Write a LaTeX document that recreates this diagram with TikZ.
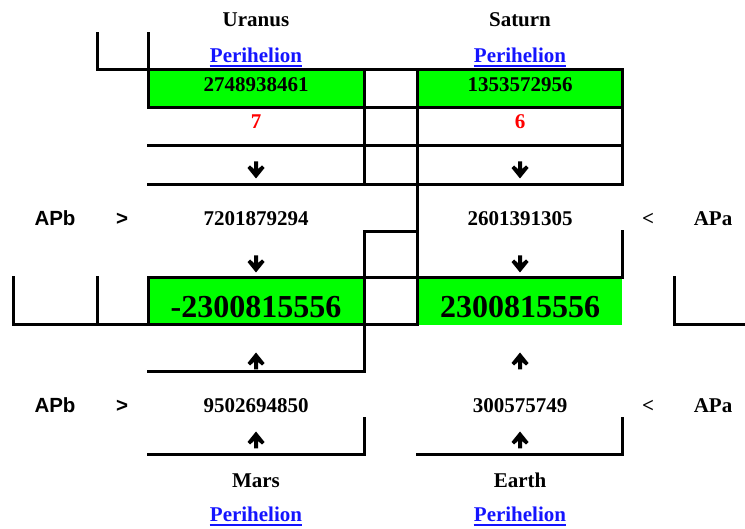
\documentclass[tikz,border=0pt]{standalone}
\usepackage{fontspec}
\setmainfont{Liberation Serif}
\newfontfamily\arialf{Liberation Sans}
\definecolor{lnk}{RGB}{20,20,255}
\definecolor{grn}{RGB}{0,255,0}
\definecolor{rd}{RGB}{255,0,0}
\tikzset{
  dnarr/.pic={\fill (-2,-8.5) -- (2,-8.5) -- (2,-1) -- (6,-4.5) -- (8.5,-2) -- (0,8.5) -- (-8.5,-2) -- (-6,-4.5) -- (-2,-1) -- cycle;},
  uparr/.pic={\fill (-2,8.5) -- (2,8.5) -- (2,1) -- (6,4.5) -- (8.5,2) -- (0,-8.5) -- (-8.5,2) -- (-6,4.5) -- (-2,1) -- cycle;}
}
\begin{document}
\begin{tikzpicture}[x=1pt,y=-1pt,
  txt/.style={font=\fontsize{21}{24}\selectfont\bfseries, anchor=base, inner sep=0pt},
  sans/.style={font=\fontsize{20.5}{24}\selectfont\arialf\bfseries, anchor=base, inner sep=0pt},
  big/.style={font=\fontsize{32}{36}\selectfont\bfseries, anchor=base, inner sep=0pt},
  link/.style={txt, text=lnk},
  red/.style={txt, text=rd},
  rule/.style={line width=3pt, line cap=rect, line join=miter},
  uline/.style={lnk, line width=2pt}]
\useasboundingbox (0,0) rectangle (745,529);
% green cells
\fill[grn] (148,70) rectangle (364,108);
\fill[grn] (417,70) rectangle (622,108);
\fill[grn] (148,278) rectangle (364,325);
\fill[grn] (417,278) rectangle (622,325);
% table borders
\draw[rule] (97,34) -- (97,70) -- (622,70) -- (622,185);
\draw[rule] (148,34) -- (148,108);
\draw[rule] (148,108) -- (622,108);
\draw[rule] (148,146) -- (622,146);
\draw[rule] (148,185) -- (622,185);
\draw[rule] (364,70) -- (364,185);
\draw[rule] (417,70) -- (417,325);
\draw[rule] (364,372) -- (364,232) -- (417,232);
\draw[rule] (148,372) -- (364,372);
\draw[rule] (148,325) -- (148,278) -- (622,278) -- (622,232);
\draw[rule] (13,278) -- (13,325) -- (417,325);
\draw[rule] (97,278) -- (97,325);
\draw[rule] (674,278) -- (674,325) -- (745,325);
\draw[rule] (148,455) -- (364,455) -- (364,419);
\draw[rule] (417,455) -- (622,455) -- (622,419);
% headers
\node[txt] (uranus) at (256,27) {Uranus};
\node[txt] (saturn) at (520,27) {Saturn};
\node[link] (uper) at (256,62.5) {Perihelion};
\node[link] (sper) at (520,62.5) {Perihelion};
\draw[uline] ([yshift=-3.5pt]uper.base west) -- ([yshift=-3.5pt]uper.base east);
\draw[uline] ([yshift=-3.5pt]sper.base west) -- ([yshift=-3.5pt]sper.base east);
% first rows
\node[txt] (un) at (256,91.5) {2748938461};
\node[txt] (sn) at (520,91.5) {1353572956};
\node[red] (u7) at (256,129) {7};
\node[red] (s6) at (520,129) {6};
\pic at (256,170) {dnarr};
\pic at (520,170) {dnarr};
% APb row 1
\node[sans] (apb1) at (55,225.5) {APb};
\node[sans] (gt1) at (122,225.5) {>};
\node[txt] (v1) at (256,225.5) {7201879294};
\node[txt] (v2) at (520,225.5) {2601391305};
\node[txt] (lt1) at (648,225.5) {<};
\node[txt] (apa1) at (713,225.5) {APa};
\pic at (256,264) {dnarr};
\pic at (520,264) {dnarr};
% big
\node[big] (bigl) at (256,317.5) {-2300815556};
\node[big] (bigr) at (520,317.5) {2300815556};
\pic at (256,361) {uparr};
\pic at (520,361) {uparr};
% APb row 2
\node[sans] (apb2) at (55,413) {APb};
\node[sans] (gt2) at (122,413) {>};
\node[txt] (w1) at (256,413) {9502694850};
\node[txt] (w2) at (520,413) {300575749};
\node[txt] (lt2) at (648,413) {<};
\node[txt] (apa2) at (713,413) {APa};
\pic at (256,440) {uparr};
\pic at (520,440) {uparr};
% bottom
\node[txt] (mars) at (256,488) {Mars};
\node[txt] (earth) at (520,488) {Earth};
\node[link] (mper) at (256,521) {Perihelion};
\node[link] (eper) at (520,521) {Perihelion};
\draw[uline] ([yshift=-3.5pt]mper.base west) -- ([yshift=-3.5pt]mper.base east);
\draw[uline] ([yshift=-3.5pt]eper.base west) -- ([yshift=-3.5pt]eper.base east);
\end{tikzpicture}
\end{document}
